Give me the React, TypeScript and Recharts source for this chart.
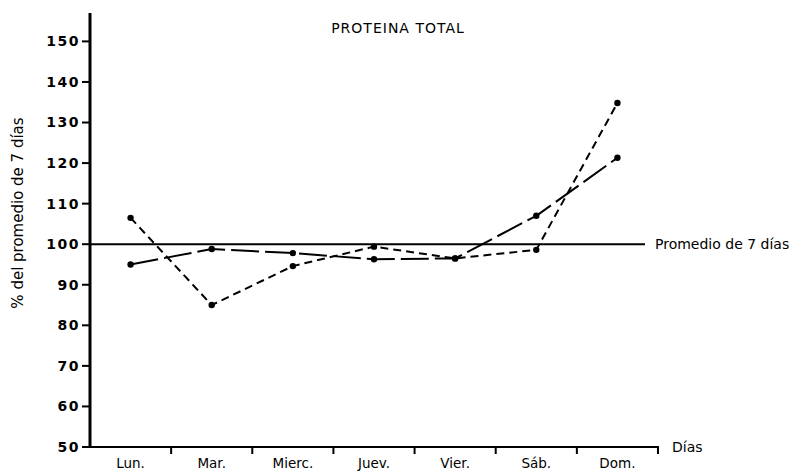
import { LineChart, Line, XAxis, YAxis, ReferenceLine } from 'recharts';

// días de la semana y las dos curvas (% del promedio de 7 días)
const dias = ['Lun.', 'Mar.', 'Mierc.', 'Juev.', 'Vier.', 'Sáb.', 'Dom.'];
const serieLarga = [95, 98.8, 97.8, 96.3, 96.5, 107, 121.3];
const serieCorta = [106.5, 85, 94.6, 99.4, 96.5, 98.6, 134.8];
const yTicks = [50, 60, 70, 80, 90, 100, 110, 120, 130, 140, 150];
const promedio = 100;

const data = dias.map((dia, i) => ({
  dia,
  larga: serieLarga[i],
  corta: serieCorta[i],
}));

const W = 789;
const H = 472;
const PLOT_W = 568;
const HALF_BAND = PLOT_W / dias.length / 2;
const FONT = '"DejaVu Sans", sans-serif';

const DiaTick = (props: any) => {
  const { x, y, payload } = props;
  return (
    <g>
      <line
        x1={x + HALF_BAND}
        x2={x + HALF_BAND}
        y1={y - 1}
        y2={y + 7}
        stroke="#000"
        strokeWidth={2}
      />
      <text
        x={x}
        y={y + 21}
        textAnchor="middle"
        fontFamily={FONT}
        fontSize={13.5}
        fill="#000"
      >
        {payload.value}
      </text>
    </g>
  );
};

const PromedioLine = (props: any) => {
  const { x1, y1, x2, y2 } = props;
  return <line x1={x1} y1={y1} x2={x2 - 13} y2={y2} stroke="#000" strokeWidth={2} />;
};

export default function App() {
  return (
    <div style={{ position: 'absolute', left: 0, top: 0, width: W, height: H, background: '#fff' }}>
      <LineChart
        width={W}
        height={H}
        data={data}
        margin={{ top: 13, right: 131, bottom: 0, left: 0 }}
      >
        <XAxis
          dataKey="dia"
          scale="band"
          height={25}
          tickLine={false}
          tickSize={0}
          tickMargin={0}
          axisLine={{ stroke: '#000', strokeWidth: 2 }}
          tick={<DiaTick />}
          interval={0}
        />
        <YAxis
          width={90}
          domain={[50, 157]}
          ticks={yTicks}
          allowDataOverflow
          tickSize={8}
          tickMargin={2}
          tickLine={{ stroke: '#000', strokeWidth: 2 }}
          axisLine={{ stroke: '#000', strokeWidth: 3 }}
          tick={{
            fill: '#000',
            fontSize: 14,
            fontWeight: 'bold',
            fontFamily: FONT,
            letterSpacing: 1.5,
          }}
        />
        <ReferenceLine
          y={promedio}
          shape={<PromedioLine />}
          label={{
            value: 'Promedio de 7 días',
            position: 'right',
            offset: -3,
            fill: '#000',
            fontSize: 14,
            fontFamily: FONT,
          }}
        />
        <Line
          dataKey="larga"
          stroke="#000"
          strokeWidth={2}
          strokeDasharray="28 6"
          dot={{ r: 3.2, fill: '#000', strokeWidth: 0 }}
          isAnimationActive={false}
        />
        <Line
          dataKey="corta"
          stroke="#000"
          strokeWidth={2}
          strokeDasharray="8 5"
          dot={{ r: 3.2, fill: '#000', strokeWidth: 0 }}
          isAnimationActive={false}
        />
      </LineChart>
      <svg
        width={W}
        height={H}
        style={{ position: 'absolute', left: 0, top: 0, pointerEvents: 'none' }}
      >
        <text
          x={398}
          y={33}
          textAnchor="middle"
          fontFamily={FONT}
          fontSize={14}
          letterSpacing={1}
          fill="#000"
        >
          PROTEINA TOTAL
        </text>
        <text
          x={0}
          y={0}
          transform="translate(23 213) rotate(-90)"
          textAnchor="middle"
          fontFamily={FONT}
          fontSize={15}
          fill="#000"
        >
          % del promedio de 7 días
        </text>
        <text x={672} y={452} fontFamily={FONT} fontSize={14} fill="#000">
          Días
        </text>
      </svg>
    </div>
  );
}
